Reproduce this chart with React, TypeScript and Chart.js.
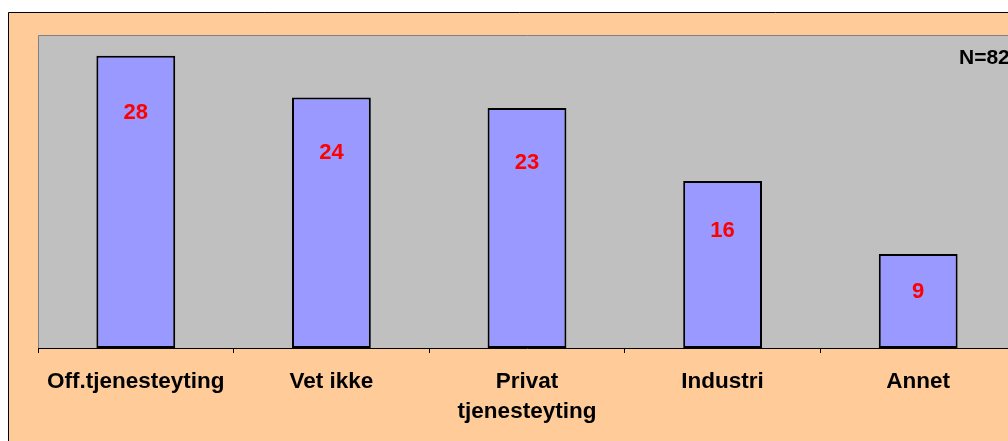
import React, { useEffect, useRef } from "react";
import { Chart, registerables } from "chart.js";

Chart.register(...registerables);

const categories: (string | string[])[] = [
  "Off.tjenesteyting",
  "Vet ikke",
  ["Privat", "tjenesteyting"],
  "Industri",
  "Annet",
];
const values: number[] = [28, 24, 23, 16, 9];
const noteText = "N=82";

const FONT = '"Liberation Sans", Arial, sans-serif';

const backgroundPlugin = {
  id: "bgPlugin",
  beforeDraw(chart: any) {
    const { ctx, width, height, chartArea } = chart;
    ctx.save();
    ctx.fillStyle = "#ffffff";
    ctx.fillRect(0, 0, width, height);
    ctx.fillStyle = "#FFCC99";
    ctx.fillRect(8, 12, width, height);
    ctx.strokeStyle = "#000000";
    ctx.lineWidth = 1;
    ctx.beginPath();
    ctx.moveTo(8.5, height + 5);
    ctx.lineTo(8.5, 12.5);
    ctx.lineTo(width + 5, 12.5);
    ctx.stroke();
    // plot area
    ctx.fillStyle = "#C0C0C0";
    ctx.fillRect(
      chartArea.left,
      chartArea.top,
      chartArea.right - chartArea.left,
      chartArea.bottom - chartArea.top
    );
    ctx.strokeStyle = "#808080";
    ctx.beginPath();
    ctx.moveTo(chartArea.left + 0.5, chartArea.bottom);
    ctx.lineTo(chartArea.left + 0.5, chartArea.top + 0.5);
    ctx.lineTo(chartArea.right, chartArea.top + 0.5);
    ctx.stroke();
    ctx.restore();
  },
};

const labelPlugin = {
  id: "valueLabels",
  afterDatasetsDraw(chart: any) {
    const { ctx, chartArea } = chart;
    const meta = chart.getDatasetMeta(0);
    ctx.save();
    ctx.font = `bold 22px ${FONT}`;
    ctx.fillStyle = "#FF0000";
    ctx.textAlign = "center";
    ctx.textBaseline = "middle";
    meta.data.forEach((bar: any, i: number) => {
      const h = bar.base - bar.y;
      const off = 60 * (1 - Math.exp(-h / 95));
      ctx.fillText(String(values[i]), bar.x, bar.y + off);
    });
    ctx.fillStyle = "#000000";
    ctx.textAlign = "left";
    ctx.font = `bold 21px ${FONT}`;
    ctx.fillText(noteText, chartArea.right - 57, chartArea.top + 23);
    ctx.restore();
  },
};

export default function App() {
  const ref = useRef<HTMLCanvasElement | null>(null);
  useEffect(() => {
    if (!ref.current) return;
    const chart = new Chart(ref.current, {
      type: "bar",
      data: {
        labels: categories,
        datasets: [
          {
            data: values,
            backgroundColor: "#9999FF",
            borderColor: "#000000",
            borderWidth: 2,
            borderSkipped: false,
            categoryPercentage: 1,
            barPercentage: 0.403,
          },
        ],
      },
      options: {
        responsive: false,
        animation: false,
        devicePixelRatio: 1,
        layout: { padding: { left: 38, top: 35, right: 14, bottom: 0 } },
        plugins: {
          legend: { display: false },
          tooltip: { enabled: false },
        },
        scales: {
          x: {
            type: "category",
            offset: true,
            grid: {
              display: true,
              offset: true,
              drawOnChartArea: false,
              drawTicks: true,
              tickLength: 5,
              color: "#000000",
            },
            border: { display: true, color: "#000000", width: 1 },
            ticks: {
              color: "#000000",
              padding: 14,
              maxRotation: 0,
              autoSkip: false,
              font: { family: FONT, size: 22.5, weight: "bold", lineHeight: 30 / 22.5 },
            },
            afterFit(scale: any) {
              scale.height = 93;
            },
          },
          y: {
            display: false,
            min: 0,
            max: 30,
          },
        },
      },
      plugins: [backgroundPlugin, labelPlugin],
    } as any);
    return () => chart.destroy();
  }, []);
  return (
    <div
      style={{
        position: "fixed",
        left: 0,
        top: 0,
        width: 1008,
        height: 441,
        overflow: "hidden",
        background: "#fff",
      }}
    >
      <canvas ref={ref} width={1030} height={441} style={{ display: "block" }} />
    </div>
  );
}
